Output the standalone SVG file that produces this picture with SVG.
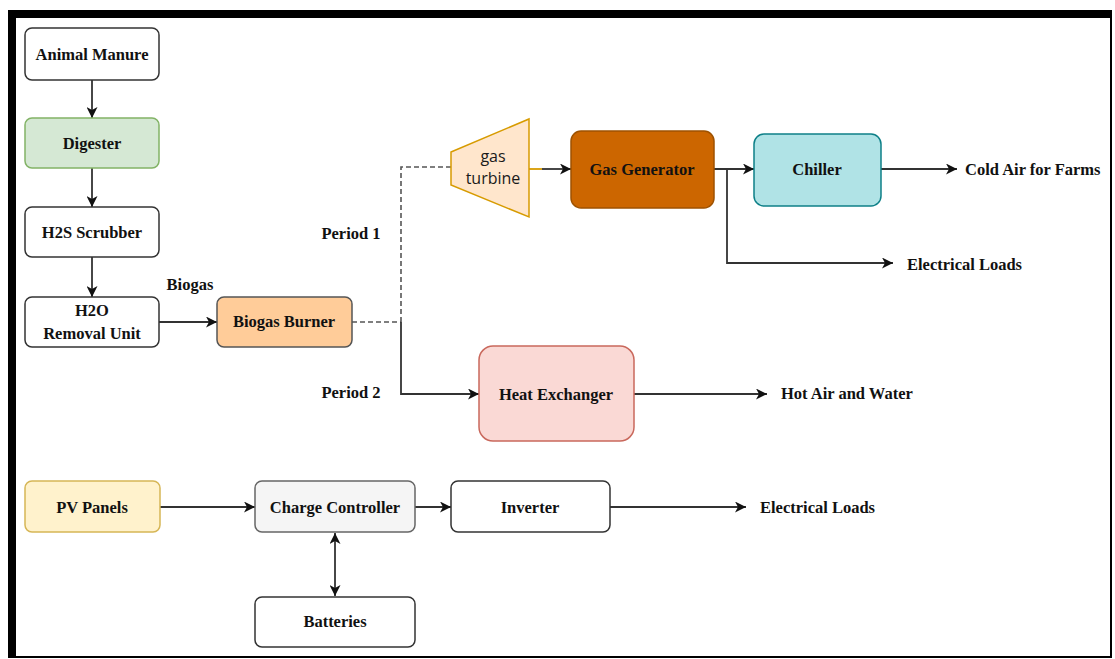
<svg xmlns="http://www.w3.org/2000/svg" width="1115" height="659" viewBox="0 0 1115 659">
<style>
.t{font-family:"Liberation Serif","Times New Roman",serif;font-weight:bold;font-size:16.5px;fill:#111;text-anchor:middle;dominant-baseline:central}
.lbl{font-family:"Liberation Serif","Times New Roman",serif;font-weight:bold;font-size:16.5px;fill:#111;dominant-baseline:central}
.s{font-family:"Open Sans","DejaVu Sans",sans-serif;font-size:16px;fill:#1a1a1a;text-anchor:middle;dominant-baseline:central}
.c{fill:none;stroke:#333;stroke-width:1.8}
.d{fill:none;stroke:#555;stroke-width:1.6;stroke-dasharray:5 3}
.a{marker-end:url(#ar)}
</style>
<defs>
<marker id="ar" markerUnits="userSpaceOnUse" markerWidth="13" markerHeight="11" refX="11" refY="5.5" orient="auto">
<path d="M0,0 L11,5.5 L0,11 L3,5.5 z" fill="#111"/>
</marker>
<marker id="as" markerUnits="userSpaceOnUse" markerWidth="13" markerHeight="11" refX="11" refY="5.5" orient="auto-start-reverse">
<path d="M0,0 L11,5.5 L0,11 L3,5.5 z" fill="#111"/>
</marker>
</defs>
<rect x="0" y="0" width="1115" height="659" fill="#fff"/>
<rect x="8" y="10" width="1104" height="648" fill="#000"/>
<rect x="16" y="18" width="1094" height="638" fill="#fff"/>

<g id="connectors">
<path class="c a" d="M92,80 V118"/>
<path class="c a" d="M92,168 V207"/>
<path class="c a" d="M92,257 V297"/>
<path class="c a" d="M159,322 H217"/>
<path class="d" d="M352,322 H401"/>
<path class="d" d="M401,322 V167 H451"/>
<path class="c a" d="M401,322 V394 H479"/>
<path d="M529,169 H542" stroke="#d79b00" stroke-width="1.8"/>
<path class="c a" d="M542,169 H571"/>
<path class="c a" d="M714,169 H754"/>
<path class="c a" d="M727,169 V263 H893"/>
<path class="c a" d="M881,169 H957"/>
<path class="c a" d="M634,394 H767"/>
<path class="c a" d="M160,507 H255"/>
<path class="c a" d="M415,507 H451"/>
<path class="c a" d="M610,507 H746"/>
<path class="c" d="M335,533 V596" marker-start="url(#as)" marker-end="url(#as)"/>
</g>

<g id="animal-manure"><rect x="25" y="28" width="134" height="52" rx="7" fill="#fff" stroke="#333" stroke-width="1.5"/><text class="t" x="92" y="54">Animal Manure</text></g>
<g id="digester"><rect x="25" y="118" width="134" height="50" rx="7" fill="#d5e8d4" stroke="#82b366" stroke-width="1.5"/><text class="t" x="92" y="143">Digester</text></g>
<g id="h2s-scrubber"><rect x="25" y="207" width="134" height="50" rx="7" fill="#fff" stroke="#333" stroke-width="1.5"/><text class="t" x="92" y="232">H2S Scrubber</text></g>
<g id="h2o-removal"><rect x="25" y="297" width="134" height="50" rx="7" fill="#fff" stroke="#333" stroke-width="1.5"/><text class="t" x="92" y="310">H2O</text><text class="t" x="92" y="333">Removal Unit</text></g>
<g id="biogas-label"><text class="t" x="190" y="284">Biogas</text></g>
<g id="biogas-burner"><rect x="217" y="297" width="135" height="50" rx="7" fill="#ffcc99" stroke="#555" stroke-width="1.5"/><text class="t" x="284" y="321">Biogas Burner</text></g>
<g id="period1"><text class="t" x="351" y="233">Period 1</text></g>
<g id="period2"><text class="t" x="351" y="392">Period 2</text></g>
<g id="gas-turbine"><path d="M451,152 L529,119 L529,217 L451,185 Z" fill="#ffe6cc" stroke="#d79b00" stroke-width="1.5"/><text class="s" x="493" y="156">gas</text><text class="s" x="493" y="178">turbine</text></g>
<g id="gas-generator"><rect x="571" y="131" width="143" height="77" rx="10" fill="#cc6600" stroke="#9e5200" stroke-width="1.5"/><text class="t" x="642" y="169">Gas Generator</text></g>
<g id="chiller"><rect x="754" y="134" width="127" height="72" rx="10" fill="#b0e3e6" stroke="#0e8088" stroke-width="1.5"/><text class="t" x="817" y="169">Chiller</text></g>
<g id="cold-air"><text class="lbl" x="965" y="169">Cold Air for Farms</text></g>
<g id="electrical-loads-1"><text class="lbl" x="907" y="264">Electrical Loads</text></g>
<g id="heat-exchanger"><rect x="479" y="346" width="155" height="95" rx="14" fill="#fad9d5" stroke="#c9685c" stroke-width="1.5"/><text class="t" x="556" y="394">Heat Exchanger</text></g>
<g id="hot-air"><text class="lbl" x="781" y="393">Hot Air and Water</text></g>
<g id="pv-panels"><rect x="25" y="481" width="135" height="51" rx="7" fill="#fff2cc" stroke="#d6b656" stroke-width="1.5"/><text class="t" x="92" y="507">PV Panels</text></g>
<g id="charge-controller"><rect x="255" y="481" width="160" height="51" rx="7" fill="#f5f5f5" stroke="#666" stroke-width="1.5"/><text class="t" x="335" y="507">Charge Controller</text></g>
<g id="inverter"><rect x="451" y="481" width="159" height="51" rx="7" fill="#fff" stroke="#333" stroke-width="1.5"/><text class="t" x="530" y="507">Inverter</text></g>
<g id="electrical-loads-2"><text class="lbl" x="760" y="507">Electrical Loads</text></g>
<g id="batteries"><rect x="255" y="597" width="160" height="50" rx="7" fill="#fff" stroke="#333" stroke-width="1.5"/><text class="t" x="335" y="621">Batteries</text></g>
</svg>
